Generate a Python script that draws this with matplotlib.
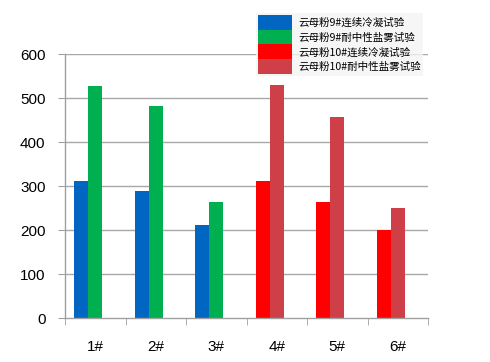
import matplotlib
matplotlib.use("Agg")
import matplotlib.pyplot as plt
from matplotlib.patches import Patch
import numpy as np

plt.rcParams['font.family'] = ['Noto Sans CJK SC', 'DejaVu Sans']

categories = ["1#", "2#", "3#", "4#", "5#", "6#"]
series_names = ["云母粉9#连续冷凝试验", "云母粉9#耐中性盐雾试验",
                "云母粉10#连续冷凝试验", "云母粉10#耐中性盐雾试验"]
colors = ["#0066C2", "#00B050", "#FF0000", "#CF3F48"]
# values: first pair belongs to categories 1#-3#, second pair to 4#-6#
cond_values = [311, 288, 211, 311, 264, 200]
salt_values = [528, 481, 264, 529, 457, 251]
series_of_cat = [0, 0, 0, 1, 1, 1]  # 0 -> 9#, 1 -> 10#
yticks = [0, 100, 200, 300, 400, 500, 600]

fig = plt.figure(figsize=(4.9, 3.62), dpi=100)
ax = fig.add_axes([65/490, 1-318/362, (428-65)/490, (318-54)/362])

x = np.arange(len(categories))
w = 0.23
off = -0.115
for i in range(len(categories)):
    c1 = colors[2*series_of_cat[i]]
    c2 = colors[2*series_of_cat[i]+1]
    ax.bar(x[i] + off - w/2, cond_values[i], width=w, color=c1, linewidth=0)
    ax.bar(x[i] + off + w/2, salt_values[i], width=w, color=c2, linewidth=0)

ax.set_xlim(-0.5, len(categories)-0.5)
ax.set_ylim(0, 600)
ax.set_yticks(yticks)
ax.set_yticklabels([str(v) for v in yticks], fontsize=11, family=['Liberation Sans', 'DejaVu Sans'])
ax.set_xticks(x)
ax.set_xticklabels(categories, fontsize=11, family=['Liberation Sans', 'DejaVu Sans'])
ax.tick_params(axis='x', length=0, pad=16)
ax.set_xticks(np.arange(-0.5, len(categories)), minor=True)
ax.tick_params(axis='x', which='minor', length=5, color='#A0A0A0', direction='out')
ax.tick_params(axis='y', length=5, color='#A0A0A0', direction='out', pad=9)

for v in yticks[1:]:
    ax.axhline(v, color='#A8A8A8', linewidth=1, zorder=0)
for s in ['top', 'right']:
    ax.spines[s].set_visible(False)
for s in ['left', 'bottom']:
    ax.spines[s].set_color('#A0A0A0')
    ax.spines[s].set_linewidth(1)

handles = [Patch(facecolor=c, edgecolor='none') for c in colors]
leg = fig.legend(handles, series_names, loc='upper left',
                 bbox_to_anchor=(256/490, 1-13/362), fontsize=7.6,
                 frameon=True, fancybox=False, borderpad=0.15,
                 handlelength=3.3, handleheight=1.8, labelspacing=0.0,
                 handletextpad=0.6, borderaxespad=0)
leg.get_frame().set_facecolor('#F4F4F4')
leg.get_frame().set_edgecolor('none')

fig.savefig("out.png", dpi=100)
